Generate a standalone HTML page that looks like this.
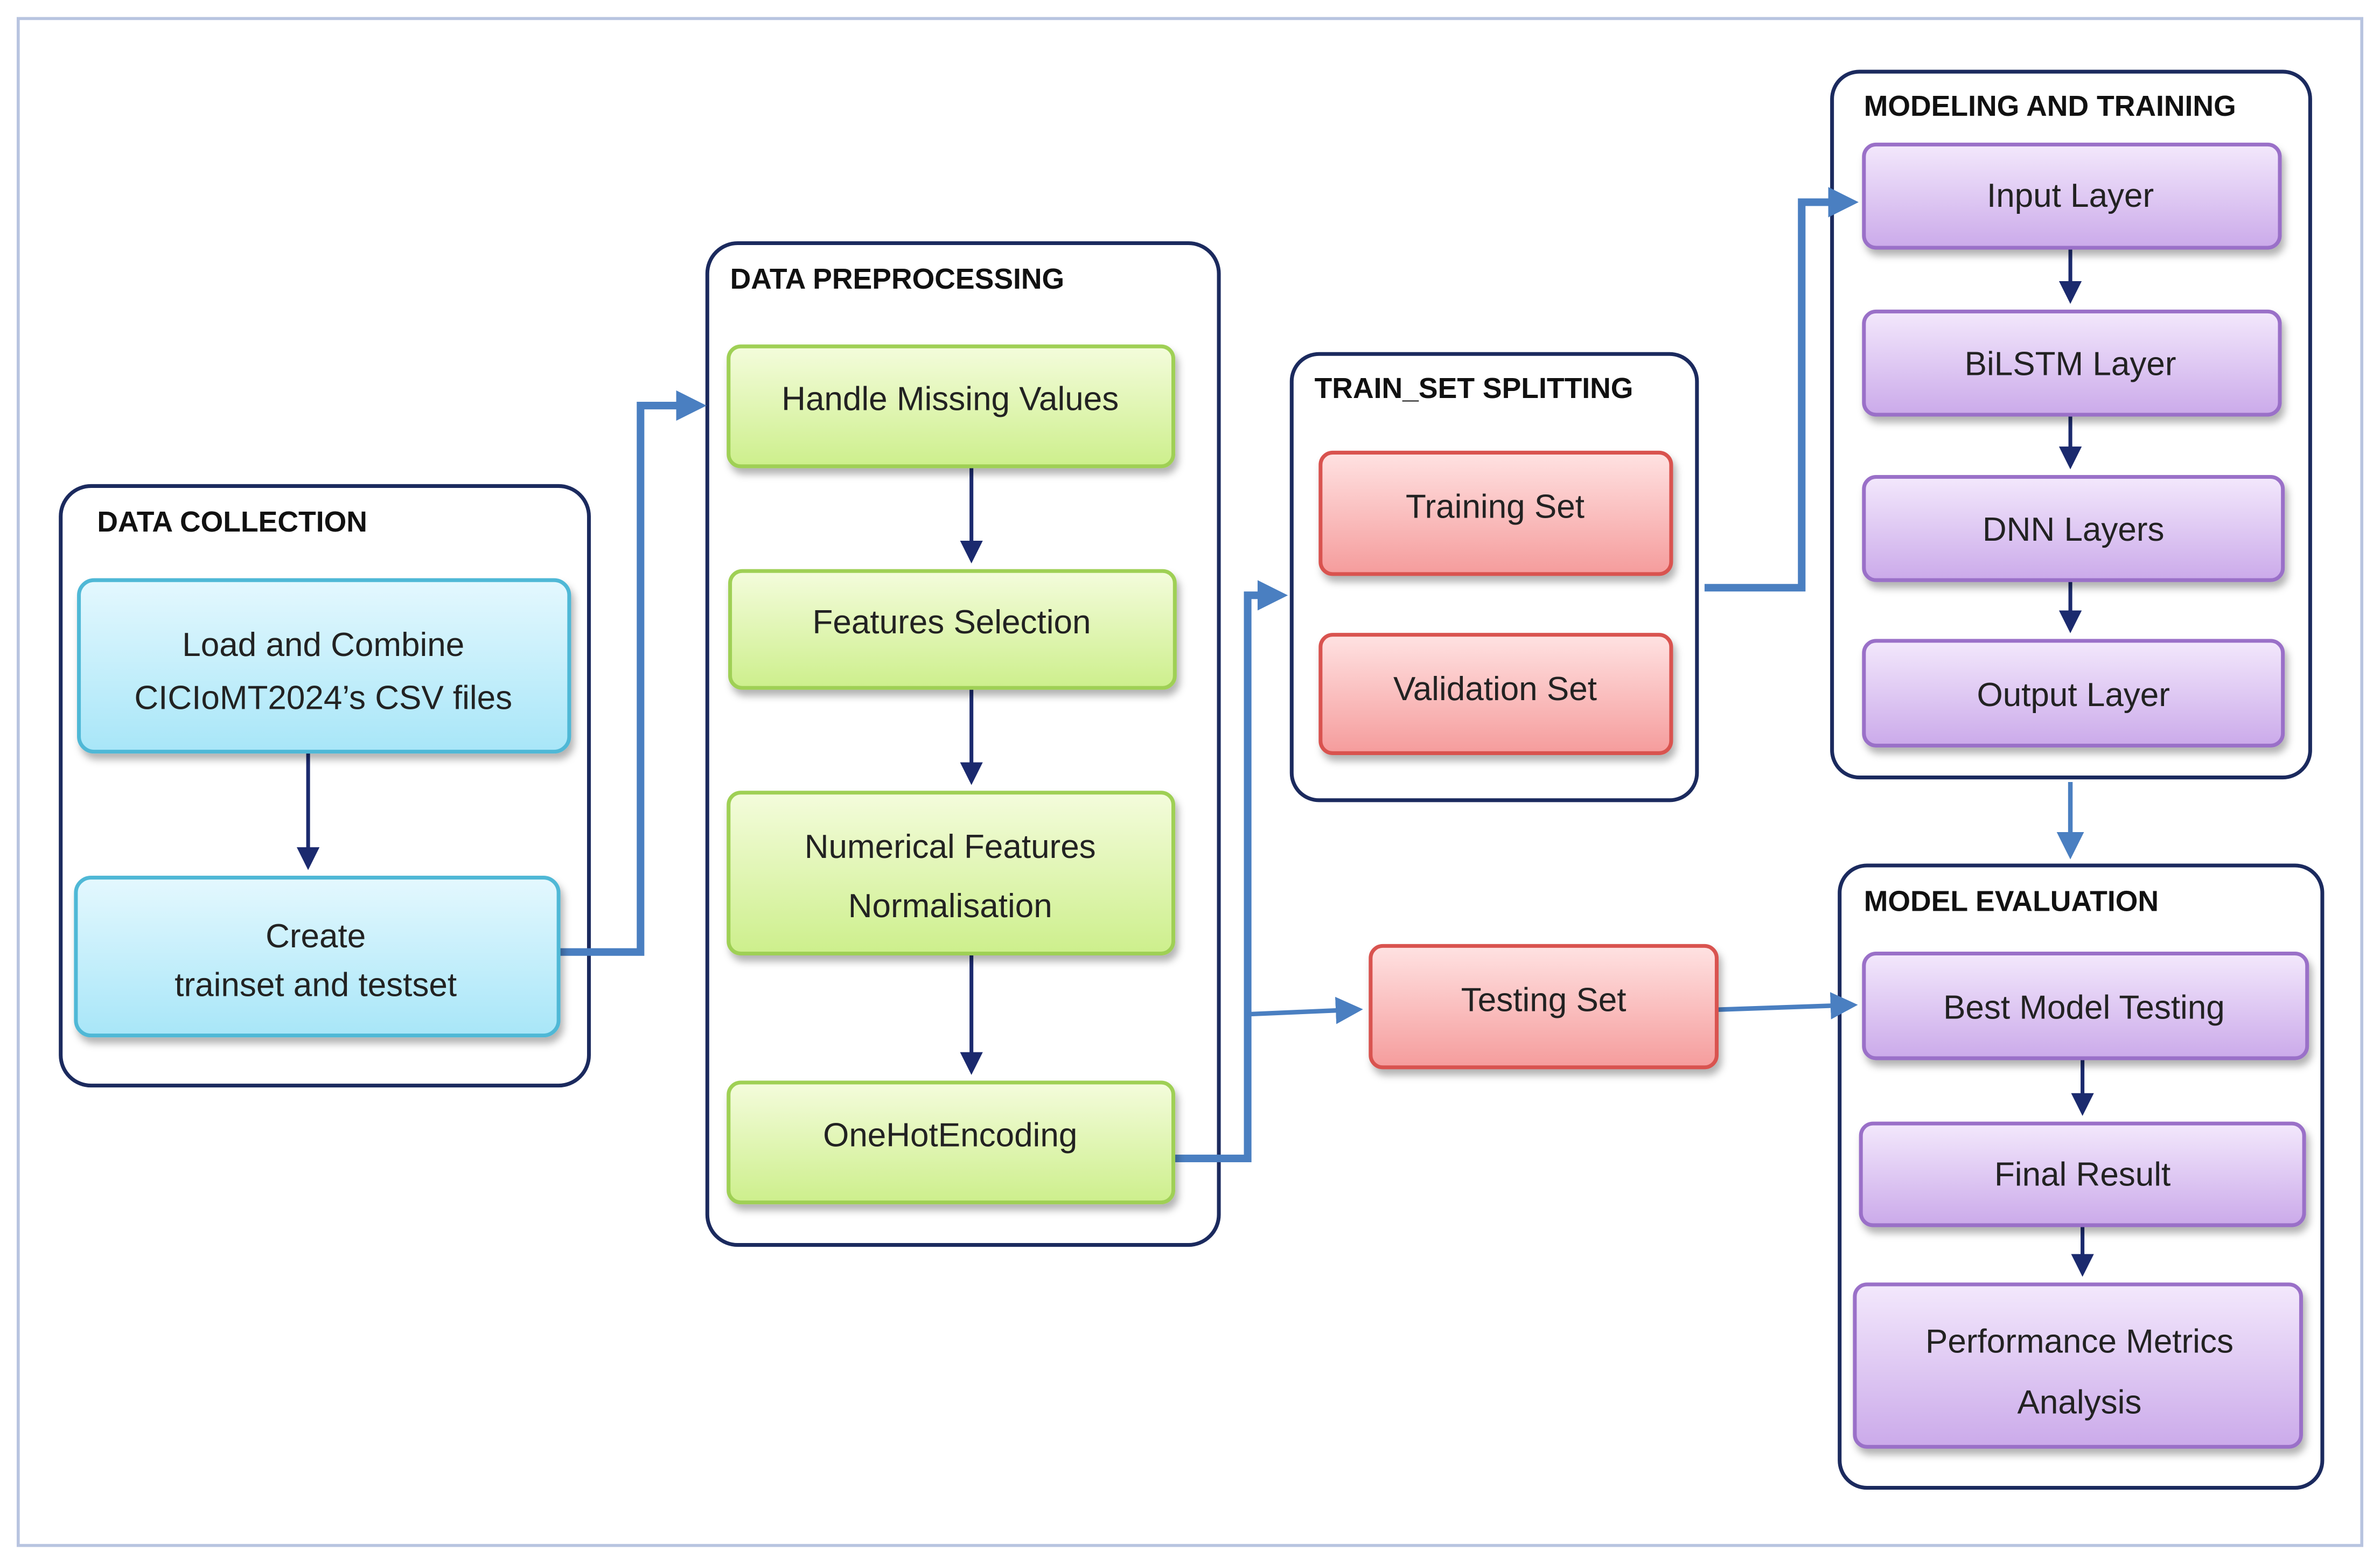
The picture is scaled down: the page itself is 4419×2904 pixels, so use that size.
<!DOCTYPE html>
<html><head><meta charset="utf-8"><style>
html,body{margin:0;padding:0;background:#fff;}
svg{display:block;}
text{font-family:"Liberation Sans",sans-serif;fill:#222;}
.t{font-size:22px;text-anchor:middle;}
.h{font-size:19px;font-weight:bold;fill:#111;}
.c{fill:#fff;stroke:#1b2a5e;stroke-width:2.5;}
</style></head><body>
<svg width="4419" height="2904" viewBox="0 0 1568 1030" xmlns="http://www.w3.org/2000/svg">
<defs>
<linearGradient id="gc" x1="0" y1="0" x2="0" y2="1"><stop offset="0" stop-color="#e4f8fe"/><stop offset="1" stop-color="#a8e6f8"/></linearGradient>
<linearGradient id="gg" x1="0" y1="0" x2="0" y2="1"><stop offset="0" stop-color="#f4fcdc"/><stop offset="1" stop-color="#cdef8c"/></linearGradient>
<linearGradient id="gr" x1="0" y1="0" x2="0" y2="1"><stop offset="0" stop-color="#ffe2e2"/><stop offset="1" stop-color="#f59c9c"/></linearGradient>
<linearGradient id="gp" x1="0" y1="0" x2="0" y2="1"><stop offset="0" stop-color="#f3e8fc"/><stop offset="1" stop-color="#cbaaea"/></linearGradient>
<filter id="sh" x="-10%" y="-10%" width="125%" height="135%"><feDropShadow dx="2" dy="4" stdDeviation="2.5" flood-color="#000" flood-opacity="0.3"/></filter>
<marker id="ad" markerWidth="6" markerHeight="6" refX="4" refY="3" orient="auto" markerUnits="strokeWidth"><path d="M0,0 L6,3 L0,6 z" fill="#1b2a6e"/></marker>
<marker id="ab" markerWidth="4" markerHeight="4" refX="2.5" refY="2" orient="auto" markerUnits="strokeWidth"><path d="M0,0 L4,2 L0,4 z" fill="#4a7fc1"/></marker>
<marker id="ab2" markerWidth="6" markerHeight="6" refX="4" refY="3" orient="auto" markerUnits="strokeWidth"><path d="M0,0 L6,3 L0,6 z" fill="#4a7fc1"/></marker>
</defs>
<rect x="12" y="12" width="1544" height="1006" fill="#fff" stroke="#b8c4e0" stroke-width="2"/>

<!-- containers -->
<rect class="c" x="40" y="320" width="348" height="395" rx="20"/>
<rect class="c" x="466" y="160" width="337" height="660" rx="20"/>
<rect class="c" x="851" y="233" width="267" height="294" rx="18"/>
<rect class="c" x="1207" y="47" width="315" height="465" rx="18"/>
<rect class="c" x="1212" y="570" width="318" height="410" rx="18"/>
<text class="h" x="64" y="350">DATA COLLECTION</text>
<text class="h" x="481" y="190">DATA PREPROCESSING</text>
<text class="h" x="866" y="262">TRAIN_SET SPLITTING</text>
<text class="h" x="1228" y="76">MODELING AND TRAINING</text>
<text class="h" x="1228" y="600">MODEL EVALUATION</text>

<!-- connectors -->
<g fill="none" stroke="#4a7fc1" stroke-width="5">
<polyline points="368,627 422,627 422,267 458,267" marker-end="url(#ab)"/>
<polyline points="773,763 822,763 822,392 841,392" marker-end="url(#ab)"/>
<polyline points="1123,387 1187,387 1187,133 1217,133" marker-end="url(#ab)"/>
</g>
<g fill="none" stroke="#4a7fc1" stroke-width="3">
<line x1="822" y1="668" x2="892" y2="665" marker-end="url(#ab2)"/>
<line x1="1131" y1="665" x2="1218" y2="662" marker-end="url(#ab2)"/>
<line x1="1364" y1="515" x2="1364" y2="560" marker-end="url(#ab2)"/>
</g>
<g fill="none" stroke="#1b2a6e" stroke-width="2.5">
<line x1="203" y1="495" x2="203" y2="568" marker-end="url(#ad)"/>
<line x1="640" y1="307" x2="640" y2="366" marker-end="url(#ad)"/>
<line x1="640" y1="453" x2="640" y2="512" marker-end="url(#ad)"/>
<line x1="640" y1="628" x2="640" y2="703" marker-end="url(#ad)"/>
<line x1="1364" y1="163" x2="1364" y2="195" marker-end="url(#ad)"/>
<line x1="1364" y1="273" x2="1364" y2="304" marker-end="url(#ad)"/>
<line x1="1364" y1="382" x2="1364" y2="412" marker-end="url(#ad)"/>
<line x1="1372" y1="697" x2="1372" y2="730" marker-end="url(#ad)"/>
<line x1="1372" y1="807" x2="1372" y2="836" marker-end="url(#ad)"/>
</g>

<!-- boxes -->
<g filter="url(#sh)" stroke-width="2.5">
<rect x="52" y="382" width="323" height="113" rx="10" fill="url(#gc)" stroke="#4fb8d6"/>
<rect x="50" y="578" width="318" height="104" rx="10" fill="url(#gc)" stroke="#4fb8d6"/>
<rect x="480" y="228" width="293" height="79" rx="8" fill="url(#gg)" stroke="#9fd055"/>
<rect x="481" y="376" width="293" height="77" rx="8" fill="url(#gg)" stroke="#9fd055"/>
<rect x="480" y="522" width="293" height="106" rx="8" fill="url(#gg)" stroke="#9fd055"/>
<rect x="480" y="713" width="293" height="79" rx="8" fill="url(#gg)" stroke="#9fd055"/>
<rect x="870" y="298" width="231" height="80" rx="8" fill="url(#gr)" stroke="#d9534f"/>
<rect x="870" y="418" width="231" height="78" rx="8" fill="url(#gr)" stroke="#d9534f"/>
<rect x="903" y="623" width="228" height="80" rx="8" fill="url(#gr)" stroke="#d9534f"/>
<rect x="1228" y="95" width="274" height="68" rx="8" fill="url(#gp)" stroke="#9a6fc8"/>
<rect x="1228" y="205" width="274" height="68" rx="8" fill="url(#gp)" stroke="#9a6fc8"/>
<rect x="1228" y="314" width="276" height="68" rx="8" fill="url(#gp)" stroke="#9a6fc8"/>
<rect x="1228" y="422" width="276" height="69" rx="8" fill="url(#gp)" stroke="#9a6fc8"/>
<rect x="1228" y="628" width="292" height="69" rx="8" fill="url(#gp)" stroke="#9a6fc8"/>
<rect x="1226" y="740" width="292" height="67" rx="8" fill="url(#gp)" stroke="#9a6fc8"/>
<rect x="1222" y="846" width="294" height="107" rx="8" fill="url(#gp)" stroke="#9a6fc8"/>
</g>

<text class="t" x="213" y="432">Load and Combine</text>
<text class="t" x="213" y="467">CICIoMT2024’s CSV files</text>
<text class="t" x="208" y="624">Create</text>
<text class="t" x="208" y="656">trainset and testset</text>
<text class="t" x="626" y="270">Handle Missing Values</text>
<text class="t" x="627" y="417">Features Selection</text>
<text class="t" x="626" y="565">Numerical Features</text>
<text class="t" x="626" y="604">Normalisation</text>
<text class="t" x="626" y="755">OneHotEncoding</text>
<text class="t" x="985" y="341">Training Set</text>
<text class="t" x="985" y="461">Validation Set</text>
<text class="t" x="1017" y="666">Testing Set</text>
<text class="t" x="1364" y="136">Input Layer</text>
<text class="t" x="1364" y="247">BiLSTM Layer</text>
<text class="t" x="1366" y="356">DNN Layers</text>
<text class="t" x="1366" y="465">Output Layer</text>
<text class="t" x="1373" y="671">Best Model Testing</text>
<text class="t" x="1372" y="781">Final Result</text>
<text class="t" x="1370" y="891">Performance Metrics</text>
<text class="t" x="1370" y="931">Analysis</text>
</svg>
</body></html>
